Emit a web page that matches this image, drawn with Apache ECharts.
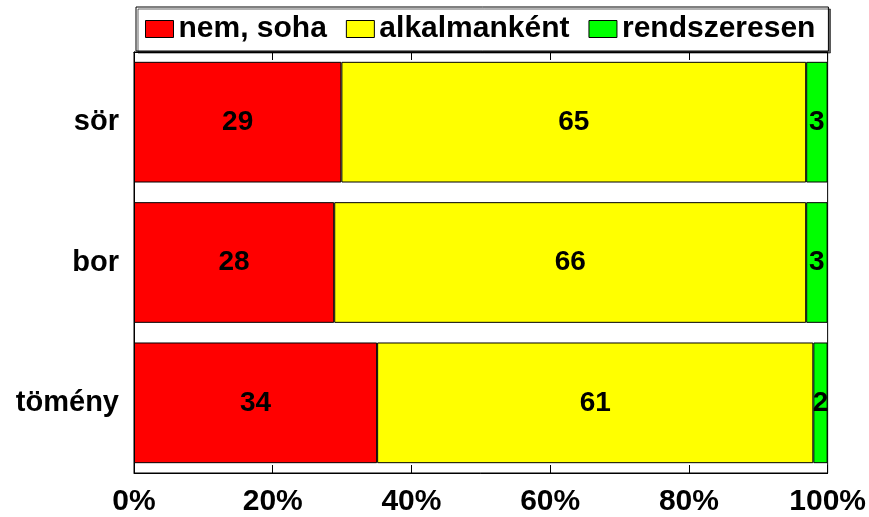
<!DOCTYPE html>
<html>
<head>
<meta charset="utf-8">
<script src="https://cdn.jsdelivr.net/npm/echarts@6/dist/echarts.min.js"></script>
<style>
  html, body { margin: 0; padding: 0; background: #fff; }
  #chart { width: 869px; height: 517px; }
</style>
</head>
<body>
<div id="chart"></div>
<script>
// Drink categories (top to bottom) and answer counts per category
const categories = ['sör', 'bor', 'tömény'];
const seriesNames = ['nem, soha', 'alkalmanként', 'rendszeresen'];
const nemSoha = [29, 28, 34];
const alkalmankent = [65, 66, 61];
const rendszeresen = [3, 3, 2];
const xTickLabels = ['0%', '20%', '40%', '60%', '80%', '100%'];

const rawSeries = [nemSoha, alkalmankent, rendszeresen];
const colors = ['#ff0000', '#ffff00', '#00ff00'];

// Each bar is shown as its share of the category total (100% stacked)
const totals = categories.map((_, i) => rawSeries.reduce((s, arr) => s + arr[i], 0));
const shares = rawSeries.map(arr => arr.map((v, i) => v / totals[i] * 100));

const FONT = "'Liberation Sans', Arial, sans-serif";

const chart = echarts.init(document.getElementById('chart'), null, { renderer: 'canvas' });

const option = {
  animation: false,
  backgroundColor: '#ffffff',
  textStyle: { fontFamily: FONT },
  legend: {
    data: seriesNames,
    left: 136,
    top: 7,
    orient: 'horizontal',
    itemWidth: 28,
    itemHeight: 17,
    itemGap: 19,
    padding: [7, 13, 7, 9],
    borderColor: '#000',
    borderWidth: 1,
    backgroundColor: '#fff',
    shadowColor: 'rgba(0,0,0,0.6)',
    shadowOffsetX: 2,
    shadowOffsetY: 2,
    shadowBlur: 0,
    icon: 'rect',
    itemStyle: { borderColor: '#000', borderWidth: 1 },
    textStyle: { fontFamily: FONT, fontSize: 30, fontWeight: 'bold', color: '#000' }
  },
  grid: {
    left: 134,
    top: 52,
    width: 695,
    height: 421,
    show: true,
    borderColor: '#000',
    borderWidth: 1,
    backgroundColor: 'transparent'
  },
  xAxis: [
    {
      type: 'value',
      position: 'bottom',
      min: 0,
      max: 100,
      interval: 20,
      axisLine: { show: true, lineStyle: { color: '#000', width: 1 } },
      axisTick: { show: true, inside: true, length: 8, lineStyle: { color: '#000' } },
      splitLine: { show: false },
      axisLabel: {
        formatter: (v) => xTickLabels[Math.round(v / 20)],
        fontFamily: FONT,
        fontSize: 30,
        fontWeight: 'bold',
        color: '#000',
        margin: 14
      }
    },
    {
      type: 'value',
      position: 'top',
      min: 0,
      max: 100,
      interval: 20,
      axisLine: { show: true, lineStyle: { color: '#000', width: 1 } },
      axisTick: { show: true, inside: true, length: 8, lineStyle: { color: '#000' } },
      splitLine: { show: false },
      axisLabel: { show: false }
    }
  ],
  yAxis: {
    type: 'category',
    data: categories,
    inverse: true,
    axisLine: { show: true, lineStyle: { color: '#000', width: 1 } },
    axisTick: { show: false },
    axisLabel: {
      fontFamily: FONT,
      fontSize: 29,
      fontWeight: 'bold',
      color: '#000',
      margin: 15
    }
  },
  series: seriesNames.map((name, k) => ({
    name: name,
    type: 'bar',
    stack: 'total',
    xAxisIndex: 0,
    barCategoryGap: '14%',
    data: shares[k],
    itemStyle: { color: colors[k], borderColor: '#000', borderWidth: 1 },
    label: {
      show: true,
      position: 'inside',
      formatter: (p) => String(rawSeries[k][p.dataIndex]),
      fontFamily: FONT,
      fontSize: 28,
      fontWeight: 'bold',
      color: '#000',
      textBorderWidth: 0
    },
    emphasis: { disabled: true }
  }))
};

chart.setOption(option);
</script>
</body>
</html>
